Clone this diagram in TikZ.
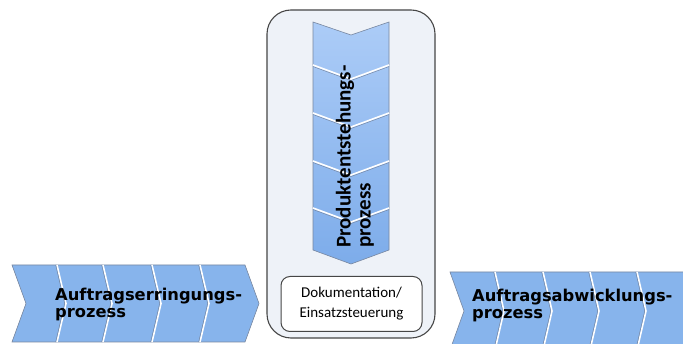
\documentclass[tikz,border=0pt]{standalone}
\usepackage{fontspec}
\newfontfamily\vfont{DejaVu Sans}
\newfontfamily\cfont{Carlito}
\definecolor{chev}{RGB}{135,180,236}
\definecolor{chevlight}{RGB}{172,204,247}
\definecolor{chevdark}{RGB}{125,172,234}
\definecolor{chevedge}{RGB}{120,135,160}
\definecolor{boxfill}{RGB}{238,242,248}
\definecolor{boxedge}{RGB}{70,70,70}
\tikzset{
  chevfill/.style={fill=chev, draw=chevedge, line width=0.6pt},
  sep/.style={draw=white, line width=1.6pt},
  sepshade/.style={draw=chevedge, line width=0.5pt},
  hlabel/.style={font=\vfont\bfseries\fontsize{16.3}{17}\selectfont, align=left, text=black, inner sep=0pt, anchor=north west},
}
\begin{document}
\begin{tikzpicture}[x=1pt,y=-1pt]
\useasboundingbox (0,0) rectangle (683,344);
\fill[white] (0,0) rectangle (683,344);
% center container
\draw[fill=boxfill, draw=boxedge, line width=1.1pt, rounded corners=24pt] (267,10) rectangle (435,338);
% vertical chevron chain
\shade[top color=chevlight, bottom color=chevdark]
  (313,22) -- (351,35) -- (389,22) -- (389,250) -- (351,264) -- (313,250) -- cycle;
\draw[chevedge, line width=0.6pt] (313,22) -- (351,35) -- (389,22) -- (389,250) -- (351,264) -- (313,250) -- cycle;
\foreach \y in {65,113,161,208} {
  \draw[sepshade] (313,\y+1.5) -- (351,\y+15.5) -- (389,\y+1.5);
  \draw[sep] (313,\y) -- (351,\y+14) -- (389,\y);
}
\node[rotate=90, font=\cfont\bfseries\fontsize{21}{20}\selectfont, align=left, anchor=west, inner sep=0pt] (prod) at (355,248) {Produktentstehungs-\\prozess};
% documentation box
\node[draw=boxedge, fill=white, line width=1pt, rounded corners=9pt, minimum width=141pt, minimum height=55pt, font=\cfont\fontsize{15}{20}\selectfont, align=center] (doc) at (351.5,304) {Dokumentation/\\Einsatzsteuerung};
% left chain
\path[chevfill] (12,265) -- (245,265) -- (259,303.5) -- (245,342) -- (12,342) -- (26,303.5) -- cycle;
\foreach \x in {57,103,152,200} {
  \draw[sep] (\x,265) -- (\x+9,303.5) -- (\x,342);
  \draw[sepshade] (\x-1.3,265) -- (\x+7.7,303.5) -- (\x-1.3,342);
}
\node[hlabel] (auftr) at (55,288) {Auftragserringungs-\\prozess};
% right chain
\path[chevfill] (450,272) -- (690,272) -- (690,350) -- (450,350) -- (464,311) -- cycle;
\foreach \x in {495,543,590,637} {
  \draw[sep] (\x,272) -- (\x+9,311) -- (\x,350);
  \draw[sepshade] (\x-1.3,272) -- (\x+7.7,311) -- (\x-1.3,350);
}
\node[hlabel] (abw) at (472,289) {Auftragsabwicklungs-\\prozess};
\end{tikzpicture}
\end{document}
